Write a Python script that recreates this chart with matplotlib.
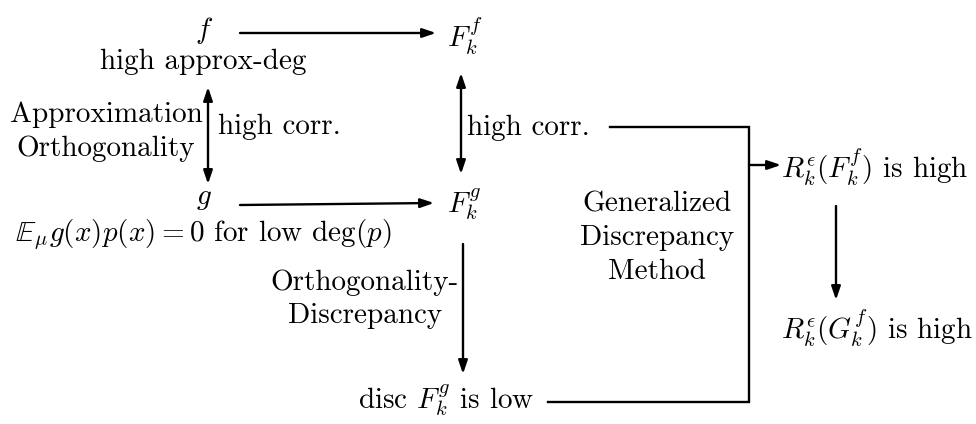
import matplotlib.pyplot as plt
from matplotlib.patches import FancyArrowPatch

plt.rcParams["font.family"] = "serif"
plt.rcParams["font.serif"] = ["cmr10"]
plt.rcParams["mathtext.fontset"] = "cm"
plt.rcParams["axes.unicode_minus"] = False

# =========================
# DIAGRAM CONTENT
# =========================

# node texts and their anchor points (x, y in pixel space, y down)
node_labels = [
    r"$f$",
    "high approx-deg",
    r"$F_k^f$",
    r"$g$",
    r"$\mathbb{E}_\mu g(x)p(x) = 0$ for low deg$(p)$",
    r"$F_k^g$",
    r"disc $F_k^g$ is low",
    r"$R_k^\epsilon(F_k^f)$ is high",
    r"$R_k^\epsilon(G_k^f)$ is high",
]
node_x = [204, 203, 447, 204, 203, 447, 446, 781, 781]
node_y = [30, 62, 36, 199, 235, 204, 400, 167, 328]
node_ha = ["center", "center", "left", "center", "center", "left", "center", "left", "left"]

# edge labels
edge_labels = [
    "Approximation\nOrthogonality",
    "high corr.",
    "high corr.",
    "Orthogonality-\nDiscrepancy",
    "Generalized\nDiscrepancy\nMethod",
]
edge_label_x = [106, 218, 467, 365, 657]
edge_label_y = [132, 127, 128, 299, 238]
edge_label_ha = ["center", "left", "left", "center", "center"]

# arrows: (x0, y0, x1, y1, style)
arrows = [
    (240, 33, 436, 33, "-|>"),
    (240, 205, 434, 203, "-|>"),
    (208, 87, 208, 184, "<|-|>"),
    (461, 73, 461, 174, "<|-|>"),
    (463, 244, 463, 374, "-|>"),
    (836, 206, 836, 300, "-|>"),
    (749, 165, 781, 165, "-|>"),
]

# bracket lines joining into the generalized method
bracket_x = [610, 749, 749, 548]
bracket_y = [127, 127, 402, 402]

# =========================
# DRAW
# =========================

fig = plt.figure(figsize=(9.76, 4.24), dpi=100)
ax = fig.add_axes([0, 0, 1, 1])
ax.set_xlim(0, 976)
ax.set_ylim(424, 0)
ax.axis("off")

fs = 21

for label, x, y, ha in zip(node_labels, node_x, node_y, node_ha):
    ax.text(x, y, label, fontsize=fs, ha=ha, va="center")

for label, x, y, ha in zip(edge_labels, edge_label_x, edge_label_y, edge_label_ha):
    ax.text(x, y, label, fontsize=fs, ha=ha, va="center",
            multialignment="center", linespacing=1.35)

for x0, y0, x1, y1, style in arrows:
    arr = FancyArrowPatch(
        (x0, y0), (x1, y1),
        arrowstyle=style + ",head_length=0.5,head_width=0.17",
        mutation_scale=16,
        linewidth=1.7,
        color="black",
        shrinkA=0,
        shrinkB=0,
    )
    ax.add_patch(arr)

ax.plot(bracket_x, bracket_y, color="black", linewidth=1.7,
        solid_joinstyle="miter")

fig.savefig("out.png", dpi=100)
